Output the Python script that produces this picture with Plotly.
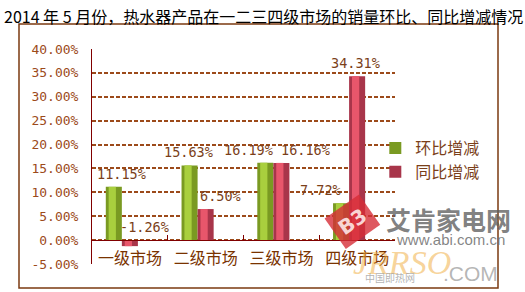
import plotly.graph_objects as go

# ---- data ----
categories = ["一级市场", "二级市场", "三级市场", "四级市场"]
series_names = ["环比增减", "同比增减"]
huanbi = [11.15, 15.63, 16.19, 7.72]     # 环比增减 (%)
tongbi = [-1.26, 6.50, 16.16, 34.31]     # 同比增减 (%)
y_tick_vals = [-5, 0, 5, 10, 15, 20, 25, 30, 35, 40]
y_tick_text = ["-5.00%", "0.00%", "5.00%", "10.00%", "15.00%",
               "20.00%", "25.00%", "30.00%", "35.00%", "40.00%"]
title_text = "2014 年 5 月份，热水器产品在一二三四级市场的销量环比、同比增减情况"

# ---- style ----
W, H = 525, 292
L, R, T, B = 92, 130, 49, 28
PW, PH = W - L - R, H - T - B
BROWN = "#9C4A1A"
DKRED = "#800000"
LABEL = "#7B3F1A"
MONO = "DejaVu Sans Mono"
CJK = "Noto Sans CJK SC"

bar_w = 0.212
offsets = [-0.318, -0.106]
base_cols = ["#7A9A22", "#A8354A"]
hi_cols = ["#A9CF3E", "#E8566B"]
# manual label nudges (px) relative to category centre, as in the source chart
label_dx = [[-8.5, -17.5, -33, -37], [14.5, 14.5, 24, -1.5]]

def px2x(px):
    return (px - L) / PW

def py2y(py):
    return (H - B - py) / PH

fig = go.Figure()
for j, vals in enumerate([huanbi, tongbi]):
    fig.add_trace(go.Bar(
        x=categories, y=vals, name=series_names[j],
        width=bar_w, offset=offsets[j],
        marker=dict(color=base_cols[j], line=dict(width=0)),
        hoverinfo="skip",
    ))
for j, vals in enumerate([huanbi, tongbi]):
    fig.add_trace(go.Bar(
        x=categories, y=vals, showlegend=False,
        width=bar_w * 0.45, offset=offsets[j] + bar_w * 0.18,
        marker=dict(color=hi_cols[j], line=dict(width=0)),
        hoverinfo="skip",
    ))

annotations = []
for j, vals in enumerate([huanbi, tongbi]):
    for i, v in enumerate(vals):
        annotations.append(dict(
            x=categories[i], y=max(v, 0), xref="x", yref="y",
            text=f"{v:.2f}%", showarrow=False,
            xshift=label_dx[j][i], yanchor="bottom", yshift=3,
            font=dict(family=MONO, size=13.5, color=LABEL),
        ))

annotations.append(dict(
    x=px2x(2), y=py2y(2), xref="paper", yref="paper",
    xanchor="left", yanchor="top", text=title_text, showarrow=False,
    font=dict(family=CJK, size=16, color="#000000"),
))

# watermark
def wm(px, py, text, family, size, color, **kw):
    d = dict(x=px2x(px), y=py2y(py), xref="paper", yref="paper",
             xanchor="center", yanchor="middle", showarrow=False,
             text=text, font=dict(family=family, size=size, color=color))
    d.update(kw)
    return d

annotations += [
    wm(352, 222, "<b>B3</b>", "DejaVu Sans", 20, "rgba(255,235,235,0.9)",
       bgcolor="rgba(214,45,55,0.8)", borderpad=6, textangle=-35),
    wm(448, 219, "<b>艾肯家电网</b>", CJK, 25, "rgba(95,95,95,0.8)"),
    wm(450, 239, "www.abi.com.cn", "Liberation Sans", 15, "rgba(110,110,110,0.85)"),
    wm(402, 262, "<i>JRRSO</i>", "Liberation Serif", 34, "rgba(240,175,70,0.55)"),
    wm(470, 273, ".COM", "Liberation Sans", 21, "rgba(150,150,150,0.7)"),
    wm(390, 277, "中国即热网", CJK, 10, "rgba(160,160,160,0.8)"),
]

fig.update_layout(
    width=W, height=H,
    margin=dict(l=L, r=R, t=T, b=B, pad=0),
    paper_bgcolor="white", plot_bgcolor="white",
    barmode="overlay",
    showlegend=True,
    legend=dict(x=0.935, y=py2y(131), xanchor="left", yanchor="top",
                bgcolor="rgba(0,0,0,0)", traceorder="normal",
                font=dict(family=CJK, size=16, color=LABEL),
                tracegroupgap=0),
    annotations=annotations,
    shapes=[dict(type="rect", xref="paper", yref="paper",
                 x0=px2x(19), x1=px2x(498), y0=py2y(288), y1=py2y(24),
                 line=dict(color="#7B3A10", width=1.5), layer="above")],
    xaxis=dict(
        type="category", range=[-0.5, 3.5],
        anchor="free", position=5 / 45,
        showline=True, linecolor=DKRED, linewidth=1,
        ticks="inside", tickson="boundaries", ticklen=5, tickcolor=DKRED,
        showgrid=False, zeroline=False,
        tickfont=dict(family=CJK, size=16, color="#7A3300"),
        ticklabelstandoff=4,
    ),
    yaxis=dict(
        range=[-5, 40], tickvals=y_tick_vals, ticktext=y_tick_text,
        showgrid=True, gridcolor=BROWN, gridwidth=1.5, griddash="4px,2px",
        showline=True, linecolor=DKRED, linewidth=1,
        zeroline=False, ticks="", ticklabelstandoff=10,
        tickfont=dict(family=MONO, size=13, color=BROWN),
    ),
)

fig.write_html("out.html")
